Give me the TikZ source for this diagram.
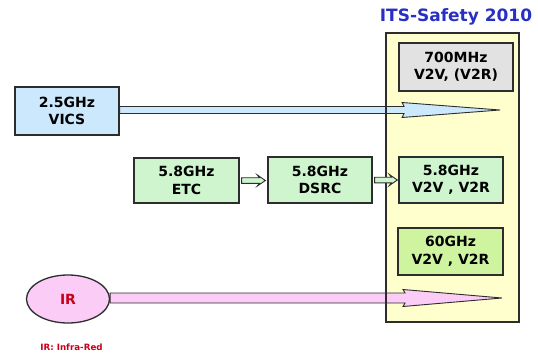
\documentclass[tikz,border=0pt]{standalone}
\usepackage{fontspec}
\setmainfont{DejaVu Sans}
\usetikzlibrary{calc,shapes.geometric}

\definecolor{vicsblue}{RGB}{204,232,252}
\definecolor{mint}{RGB}{206,245,206}
\definecolor{lime}{RGB}{206,244,160}
\definecolor{boxgrey}{RGB}{226,226,226}
\definecolor{panelyellow}{RGB}{255,255,206}
\definecolor{irpink}{RGB}{250,204,246}
\definecolor{titleblue}{RGB}{40,48,195}
\definecolor{irred}{RGB}{200,0,25}
\definecolor{edge}{RGB}{45,45,45}

% horizontal block arrow: fill, from, to, head length, shaft half-width, head half-width
\newcommand\fatarrow[6]{%
  \filldraw[arrowline, fill=#1] let \p1=(#2), \p2=(#3) in
    (\x1,\y1+#5) -- (\x2-#4,\y1+#5) -- (\x2-#4-2pt,\y1+#6) -- (\x2,\y1)
    -- (\x2-#4-2pt,\y1-#6) -- (\x2-#4,\y1-#5) -- (\x1,\y1-#5) -- cycle;}

\tikzset{
  bandbox/.style={draw=edge, line width=1.3pt, align=center, inner sep=0pt,
    font=\fontsize{14}{17.5}\selectfont\bfseries},
  arrowline/.style={draw=edge, line width=0.9pt, line join=miter},
}

\begin{document}
\begin{tikzpicture}[x=1pt, y=-1pt]
  \useasboundingbox (0,0) rectangle (538,353);

  % ITS-Safety panel (fill first, outline after the arrows)
  \fill[panelyellow] (386,33) rectangle (519,322);
  \node[font=\fontsize{17}{20}\selectfont\bfseries, text=titleblue] (title) at (456,17) {ITS-Safety 2010};

  % band boxes
  \node[bandbox, fill=vicsblue, minimum width=104pt, minimum height=48pt] (vics) at (67,111) {2.5GHz\\VICS};
  \node[bandbox, fill=mint, minimum width=105pt, minimum height=45pt] (etc) at (186.5,180.5) {5.8GHz\\ETC};
  \node[bandbox, fill=mint, minimum width=104pt, minimum height=46pt] (dsrc) at (320,180) {5.8GHz\\DSRC};
  \node[ellipse, draw=edge, line width=1.3pt, fill=irpink, minimum width=83pt, minimum height=48pt,
        inner sep=0pt, text=irred, font=\fontsize{14}{17}\selectfont\bfseries] (ir) at (68,299) {IR};
  \node[text=irred, font=\fontsize{8.7}{10}\selectfont\bfseries] (irnote) at (71.5,347) {IR: Infra-Red};

  % free ends of the long arrows
  \coordinate (vicstip) at (500,110);
  \coordinate (irtip) at (502,298);

  % long arrows into the panel
  \fatarrow{vicsblue}{vics.east |- vicstip}{vicstip}{96pt}{3.5pt}{7.5pt}
  \fatarrow{irpink}{ir.east |- irtip}{irtip}{97pt}{5pt}{8.5pt}

  % panel outline
  \draw[edge, line width=1.3pt] (386,33) rectangle (519,322);

  % boxes inside the panel
  \node[bandbox, fill=boxgrey, minimum width=114pt, minimum height=48pt] (uhf) at (456,67) {700MHz\\V2V, (V2R)};
  \node[bandbox, fill=mint, minimum width=104pt, minimum height=46pt] (v58) at (451,180) {5.8GHz\\V2V , V2R};
  \node[bandbox, fill=lime, minimum width=105pt, minimum height=47pt] (v60) at (450.5,251.5) {60GHz\\V2V , V2R};

  % short hollow arrows along the 5.8GHz chain
  \coordinate (a1s) at ($(etc.east)+(2,0)$);
  \coordinate (a1e) at ($(dsrc.west)+(-2,0)$);
  \coordinate (a2s) at ($(dsrc.east)+(2,0)$);
  \coordinate (a2e) at ($(v58.west)+(-1,0)$);
  \fatarrow{mint}{a1s}{a1e}{6pt}{2.8pt}{5.5pt}
  \fatarrow{mint}{a2s}{a2e}{6pt}{2.8pt}{5.5pt}
\end{tikzpicture}
\end{document}
